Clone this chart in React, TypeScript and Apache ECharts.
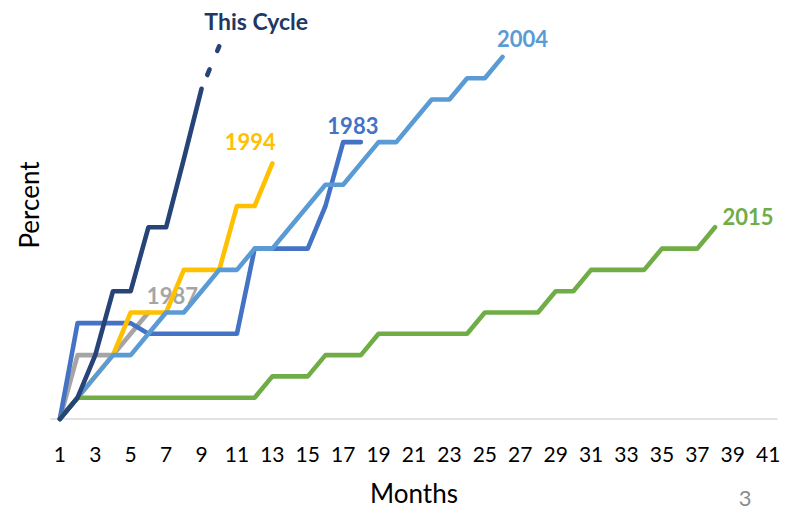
import React, { useEffect, useRef } from "react";
import * as echarts from "echarts";

const months = Array.from({ length: 41 }, (_, i) => String(i + 1));

const cycle1983 = [0, 1.125, 1.125, 1.125, 1.125, 1.0, 1.0, 1.0, 1.0, 1.0, 1.0, 2.0, 2.0, 2.0, 2.0, 2.5, 3.25, 3.25];
const cycle1987 = [0, 0.75, 0.75, 0.75, 1.0, 1.25];
const cycle1994 = [0, 0.25, 0.5, 0.75, 1.25, 1.25, 1.25, 1.75, 1.75, 1.75, 2.5, 2.5, 3.0];
const cycle2004 = [0, 0.25, 0.5, 0.75, 0.75, 1.0, 1.25, 1.25, 1.5, 1.75, 1.75, 2.0, 2.0, 2.25, 2.5, 2.75, 2.75, 3.0, 3.25, 3.25, 3.5, 3.75, 3.75, 4.0, 4.0, 4.25];
const cycle2015 = [0, 0.25, 0.25, 0.25, 0.25, 0.25, 0.25, 0.25, 0.25, 0.25, 0.25, 0.25, 0.5, 0.5, 0.5, 0.75, 0.75, 0.75, 1.0, 1.0, 1.0, 1.0, 1.0, 1.0, 1.25, 1.25, 1.25, 1.25, 1.5, 1.5, 1.75, 1.75, 1.75, 1.75, 2.0, 2.0, 2.0, 2.25];
const thisCycle = [0, 0.25, 0.75, 1.5, 1.5, 2.25, 2.25, 3.05, 3.875];
const thisCycleProjected = [null, null, null, null, null, null, null, null, 3.875, 4.375];

const FONT = "Lato";

function lineSeries(name: string, data: (number | null)[], color: string, labelColor: string, offset: number[], z: number, extra: any = {}) {
  return {
    name,
    type: "line",
    data,
    symbol: "none",
    showSymbol: false,
    clip: false,
    z,
    lineStyle: { color, width: 4.6, cap: "round", join: "round", ...(extra.lineStyle || {}) },
    endLabel: extra.noLabel
      ? { show: false }
      : {
          show: true,
          formatter: extra.labelText || name,
          distance: 0,
          offset,
          align: "center",
          verticalAlign: "middle",
          color: labelColor,
          fontFamily: FONT,
          fontWeight: "bold",
          fontSize: extra.fontSize || 22,
        },
  };
}

export default function App() {
  const ref = useRef<HTMLDivElement>(null);
  useEffect(() => {
    if (!ref.current) return;
    const chart = echarts.init(ref.current, null, { renderer: "svg" });
    chart.setOption({
      animation: false,
      backgroundColor: "#ffffff",
      grid: { left: 51, right: 18, top: 14.3, bottom: 91, containLabel: false, outerBoundsMode: "none" },
      xAxis: {
        type: "category",
        data: months,
        boundaryGap: true,
        axisTick: { show: false },
        axisLine: { lineStyle: { color: "#D9D9D9", width: 1.5 } },
        axisLabel: { interval: 1, color: "#000000", fontFamily: FONT, fontSize: 21, margin: 24 },
        name: "Months",
        nameLocation: "middle",
        nameGap: 61,
        nameTextStyle: { color: "#000000", fontFamily: FONT, fontSize: 26 },
      },
      yAxis: {
        type: "value",
        min: 0,
        max: 4.75,
        axisLabel: { show: false },
        axisLine: { show: false },
        axisTick: { show: false },
        splitLine: { show: false },
      },
      graphic: [
        {
          type: "text",
          x: 29,
          y: 205,
          rotation: Math.PI / 2,
          style: { text: "Percent", fill: "#000000", font: `26px ${FONT}`, align: "center", verticalAlign: "middle" },
        },
        {
          type: "text",
          x: 745,
          y: 497,
          style: { text: "3", fill: "#8C8C8C", font: `22px ${FONT}`, align: "center", verticalAlign: "middle" },
        },
      ],
      series: [
        lineSeries("1987", cycle1987, "#A5A5A5", "#A5A5A5", [24, -17], 2),
        lineSeries("1983", cycle1983, "#4472C4", "#4472C4", [-8, -17], 3),
        lineSeries("1994", cycle1994, "#FFC000", "#FFC000", [-22, -22], 4),
        lineSeries("2004", cycle2004, "#5B9BD5", "#5B9BD5", [20, -18], 5),
        lineSeries("2015", cycle2015, "#70AD47", "#70AD47", [33, -11], 6),
        lineSeries("This Cycle", thisCycle, "#264478", "#1F3864", [0, 0], 7, { noLabel: true }),
        lineSeries("This Cycle (projected)", thisCycleProjected, "#264478", "#1F3864", [37, -25], 7, {
          labelText: "This Cycle",
          fontSize: 23,
          lineStyle: { type: [6, 20], dashOffset: 10.7 },
        }),
      ],
    });
    return () => chart.dispose();
  }, []);
  return <div ref={ref} style={{ position: "fixed", left: 0, top: 0, width: 795, height: 510 }} />;
}
